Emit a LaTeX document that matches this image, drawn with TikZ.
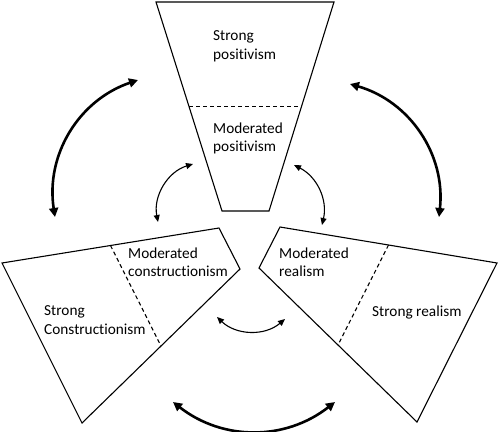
\documentclass[tikz,border=0pt]{standalone}
\usepackage{fontspec}
\setmainfont{Carlito}[Ligatures=NoCommon]
\usetikzlibrary{arrows.meta,calc}
\begin{document}
\begin{tikzpicture}[x=1pt,y=-1pt,
  outline/.style={draw=black,line width=1.1pt,line join=miter},
  divider/.style={draw=black,line width=1.1pt,dash pattern=on 4pt off 3pt},
  txt/.style={anchor=north west,inner sep=0pt,align=left,font=\fontsize{15.3}{18.5}\selectfont},
  bigarrow/.style={line width=2.6pt,{Triangle[length=9pt,width=9pt]}-{Triangle[length=9pt,width=9pt]}},
  smallarrow/.style={line width=1.1pt,{Triangle[length=7pt,width=6pt]}-{Triangle[length=7pt,width=6pt]}}]
\useasboundingbox[fill=white] (0,0) rectangle (500,431);

% top funnel
\coordinate (t1) at (156,2);
\coordinate (t2) at (334,2);
\coordinate (t3) at (269,211);
\coordinate (t4) at (222,211);
\draw[outline] (t1) -- (t2) -- (t3) -- (t4) -- cycle;
\draw[divider] ($(t1)!0.502!(t4)$) -- ($(t2)!0.502!(t3)$);
\node[txt] (sp) at (213,30.5) {Strong\\positivism};
\node[txt] (mp) at (213,122.5) {Moderated\\positivism};

% left quad
\coordinate (l1) at (2,263);
\coordinate (l2) at (219,228);
\coordinate (l3) at (240,269);
\coordinate (l4) at (82,423);
\draw[outline] (l1) -- (l2) -- (l3) -- (l4) -- cycle;
\draw[divider] ($(l1)!0.5!(l2)$) -- ($(l3)!0.5!(l4)$);
\node[txt] (mc) at (128,247.5) {Moderated\\constructionism};
\node[txt] (sc) at (44,305.5) {Strong\\Constructionism};

% right quad
\coordinate (r1) at (280,227);
\coordinate (r2) at (497,263);
\coordinate (r3) at (417,422);
\coordinate (r4) at (259,268);
\draw[outline] (r1) -- (r2) -- (r3) -- (r4) -- cycle;
\draw[divider] ($(r1)!0.5!(r2)$) -- ($(r4)!0.5!(r3)$);
\node[txt] (mr) at (279,247.5) {Moderated\\realism};
\node[txt] (sr) at (372,305.5) {Strong realism};

% big arrows
\coordinate (bl1) at (138,80);
\coordinate (bl2) at (55,217);
\coordinate (br1) at (350,84);
\coordinate (br2) at (439,217);
\coordinate (bb1) at (173,402);
\coordinate (bb2) at (335,402);
\draw[bigarrow] (bl1) to[bend right=40] (bl2);
\draw[bigarrow] (br1) to[bend left=40] (br2);
\draw[bigarrow] (bb1) to[bend right=38] (bb2);

% small arrows
\coordinate (sl1) at (193,164);
\coordinate (sl2) at (158,222);
\coordinate (sr1) at (294,165);
\coordinate (sr2) at (322,225);
\coordinate (sb1) at (217,317);
\coordinate (sb2) at (285,319);
\draw[smallarrow] (sl1) to[bend right=42] (sl2);
\draw[smallarrow] (sr1) to[bend left=38] (sr2);
\draw[smallarrow] (sb1) to[bend right=42] (sb2);
\end{tikzpicture}
\end{document}
